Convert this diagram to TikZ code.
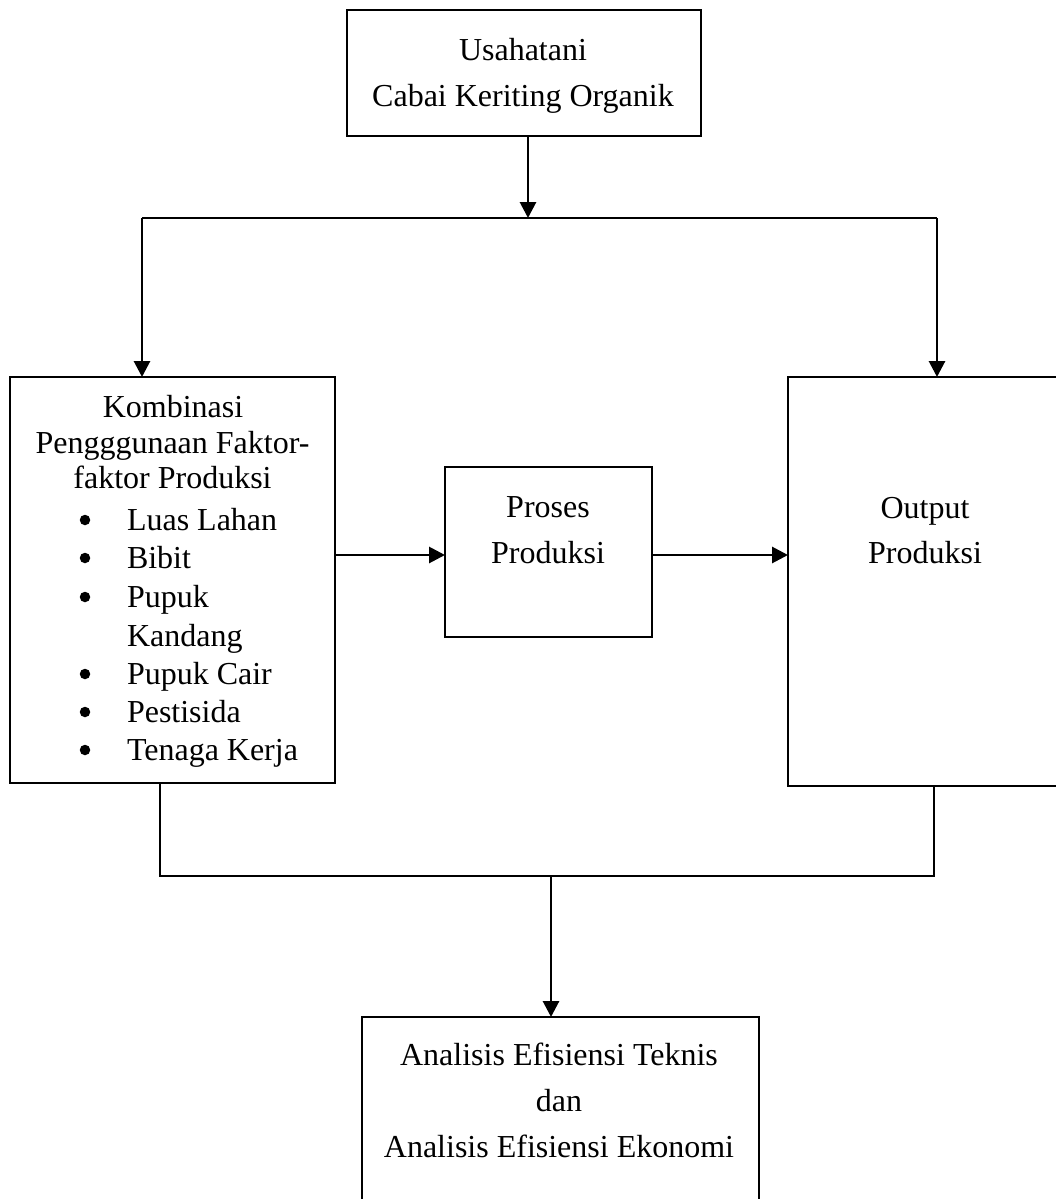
\documentclass[tikz,border=0pt]{standalone}
\usepackage{fontspec}
\setmainfont{Liberation Serif}
\usetikzlibrary{arrows.meta}
\tikzset{
  box/.style={draw=black, line width=2.2pt, rectangle, inner sep=0pt, outer sep=0pt},
  conn/.style={draw=black, line width=2.9pt},
  arr/.style={conn, -{Triangle[length=16pt,width=16pt]}},
  txt/.style={inner sep=0pt, outer sep=0pt, anchor=base, font=\fontsize{32}{38}\selectfont},
  txtw/.style={txt, anchor=base west},
  bul/.style={circle, fill=black, minimum size=10.5pt, inner sep=0pt, outer sep=0pt},
}
\begin{document}
\begin{tikzpicture}[x=1pt,y=-1pt]
\useasboundingbox (0,0) rectangle (1056,1199);
\clip (0,0) rectangle (1056,1199);
\fill[white] (0,0) rectangle (1056,1199);

% boxes
\node[box, minimum width=354pt, minimum height=126pt] (top) at (524,73) {};
\node[box, minimum width=325pt, minimum height=406pt] (left) at (172.5,580) {};
\node[box, minimum width=207pt, minimum height=170pt] (mid) at (548.5,552) {};
\node[box, minimum width=298pt, minimum height=409pt] (right) at (937,581.5) {};
\node[box, minimum width=397pt, minimum height=203pt] (bottom) at (560.5,1118.5) {};

% texts
\node[txt] (t1) at (523,60) {Usahatani};
\node[txt] (t2) at (523,106) {Cabai Keriting Organik};

\node[txt] (k1) at (173,417) {Kombinasi};
\node[txt] (k2) at (172.5,453) {Pengggunaan Faktor-};
\node[txt] (k3) at (172.5,488) {faktor Produksi};
\node[bul] (b1) at (85,520) {};
\node[txtw] (i1) at (127,530) {Luas Lahan};
\node[bul] (b2) at (85,558) {};
\node[txtw] (i2) at (127,568) {Bibit};
\node[bul] (b3) at (85,597) {};
\node[txtw] (i3) at (127,607) {Pupuk};
\node[txtw] (i3b) at (127,646) {Kandang};
\node[bul] (b4) at (85,674) {};
\node[txtw] (i4) at (127,684) {Pupuk Cair};
\node[bul] (b5) at (85,712) {};
\node[txtw] (i5) at (127,722) {Pestisida};
\node[bul] (b6) at (85,750) {};
\node[txtw] (i6) at (127,760) {Tenaga Kerja};

\node[txt] (p1) at (548,517) {Proses};
\node[txt] (p2) at (548,563) {Produksi};

\node[txt] (o1) at (925,518) {Output};
\node[txt] (o2) at (925,563) {Produksi};

\node[txt] (a1) at (559,1065) {Analisis Efisiensi Teknis};
\node[txt] (a2) at (559,1111) {dan};
\node[txt] (a3) at (559,1157) {Analisis Efisiensi Ekonomi};

% connectors
\coordinate (j1) at (528,218);
\coordinate (jl) at (142,218);
\coordinate (jr) at (937,218);
\draw[arr] (top.south -| j1) -- (j1);
\draw[conn] (jl) -- (jr);
\draw[arr] (jl) -- (jl |- left.north);
\draw[arr] (jr) -- (jr |- right.north);

\coordinate (hm) at (0,555);
\draw[arr] (hm -| left.east) -- (hm -| mid.west);
\draw[arr] (hm -| mid.east) -- (hm -| right.west);

\coordinate (bl) at (160,876);
\coordinate (br) at (934,876);
\coordinate (jb) at (551,876);
\draw[conn] (bl |- left.south) -- (bl) -- (br) -- (br |- right.south);
\draw[arr] (jb) -- (jb |- bottom.north);
\end{tikzpicture}
\end{document}
